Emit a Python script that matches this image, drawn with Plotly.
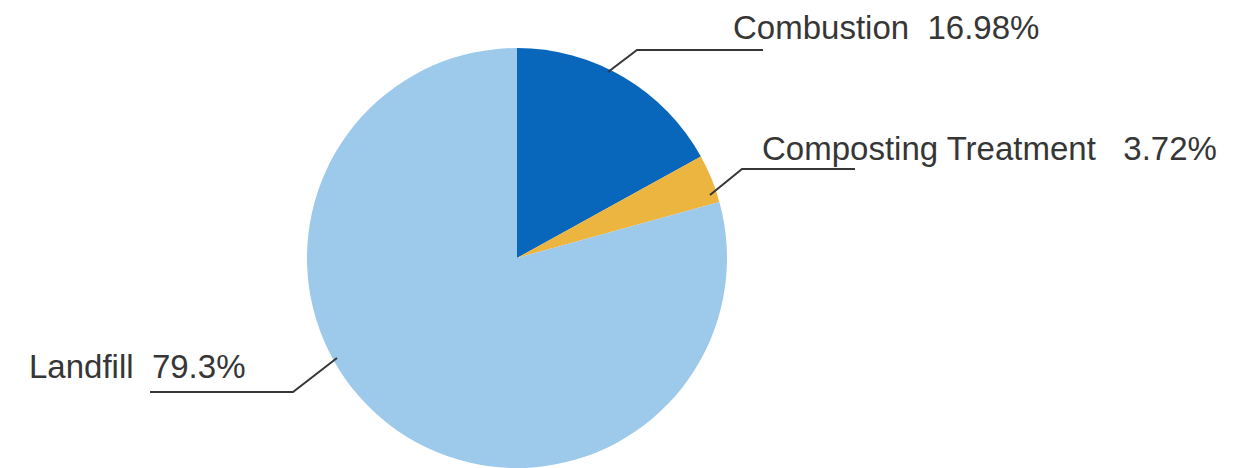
import plotly.graph_objects as go

# Waste treatment shares (percent)
methods = ["Combustion", "Composting Treatment", "Landfill"]
shares = [16.98, 3.72, 79.3]
colors = ["#0866bb", "#ecb540", "#9dc9eb"]

W, H = 1256, 468
FONT = "Liberation Sans, Arial, sans-serif"
TEXT_COLOR = "#363636"

# Label placement (pixels): leader polyline and text anchor for each slice
leader_paths = {
    "Combustion": [(608, 72), (637, 50), (763, 50)],
    "Composting Treatment": [(710, 195), (742, 169), (855, 169)],
    "Landfill": [(337, 358), (293, 392), (150, 392)],
}
label_anchor = {
    "Combustion": (731, 27),
    "Composting Treatment": (760, 148),
    "Landfill": (27, 366),
}
label_gap = {"Combustion": 2, "Composting Treatment": 3, "Landfill": 2}


def px(x, y):
    return x / W, 1 - y / H


fig = go.Figure(
    go.Pie(
        labels=methods,
        values=shares,
        sort=False,
        direction="clockwise",
        rotation=0,
        marker=dict(colors=colors, line=dict(width=0)),
        textinfo="none",
        hoverinfo="label+percent",
        showlegend=False,
        domain=dict(x=[307 / W, 727 / W], y=[0, 420 / H]),
    )
)

shapes = []
annotations = []
for name, value in zip(methods, shares):
    pts = [px(x, y) for x, y in leader_paths[name]]
    path = "M " + " L ".join(f"{x:.5f},{y:.5f}" for x, y in pts)
    shapes.append(
        dict(type="path", xref="paper", yref="paper", path=path,
             line=dict(color=TEXT_COLOR, width=2))
    )
    ax, ay = px(*label_anchor[name])
    annotations.append(
        dict(
            x=ax, y=ay, xref="paper", yref="paper",
            xanchor="left", yanchor="middle", showarrow=False,
            text=f"{name}{chr(160) * label_gap[name]}{value:g}%",
            font=dict(family=FONT, size=33, color=TEXT_COLOR),
        )
    )

fig.update_layout(
    width=W, height=H,
    margin=dict(l=0, r=0, t=0, b=0),
    paper_bgcolor="white", plot_bgcolor="white",
    shapes=shapes, annotations=annotations,
)

fig.write_html("out.html")
